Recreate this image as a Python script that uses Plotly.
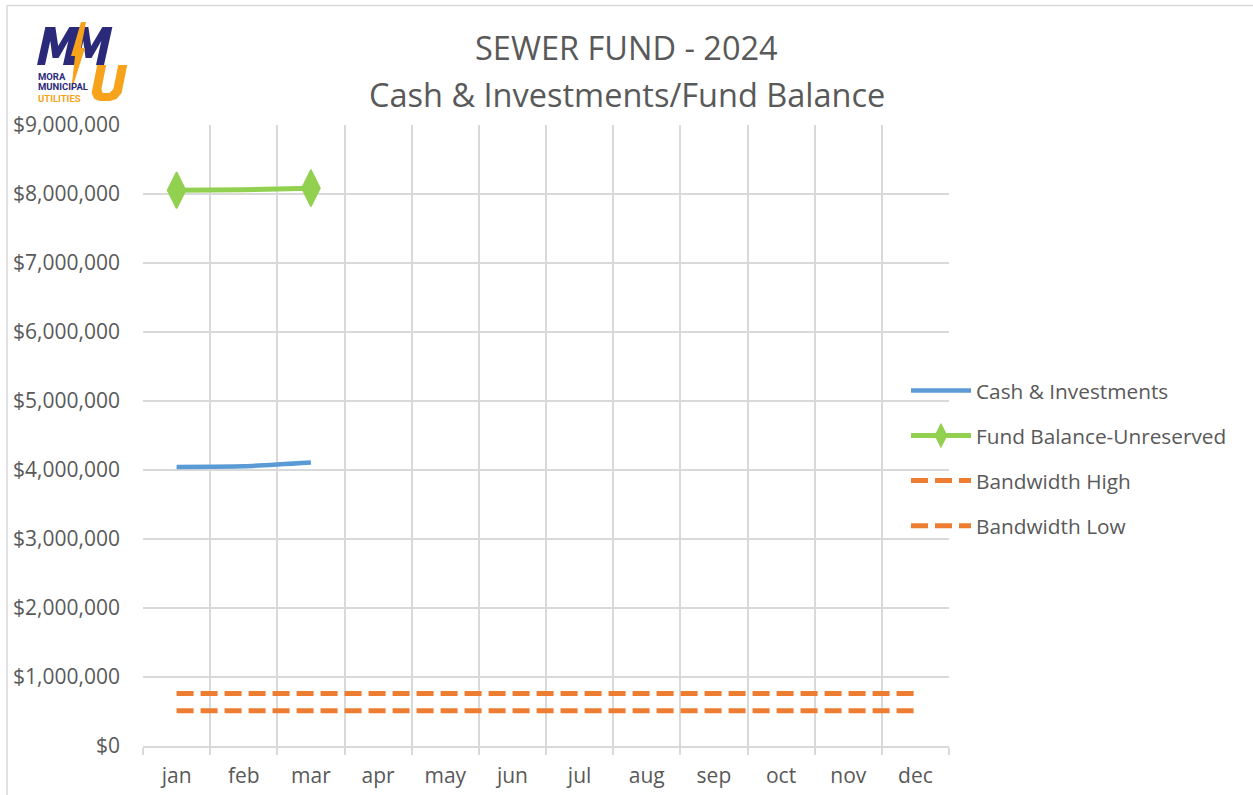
import plotly.graph_objects as go

months = ["jan", "feb", "mar", "apr", "may", "jun", "jul", "aug", "sep", "oct", "nov", "dec"]
cash_investments = [4045000, 4055000, 4110000]
fund_balance = [8055000, 8060000, 8085000]
fund_marker_sizes = [26, 0, 26]
bandwidth_high = [760000] * 12
bandwidth_low = [510000] * 12
y_ticks = [0, 1000000, 2000000, 3000000, 4000000, 5000000, 6000000, 7000000, 8000000, 9000000]
y_tick_labels = ["$0", "$1,000,000", "$2,000,000", "$3,000,000", "$4,000,000",
                 "$5,000,000", "$6,000,000", "$7,000,000", "$8,000,000", "$9,000,000"]

FONT = "Open Sans"
TXT = "#595959"
GRID = "#D9D9D9"
W, H = 1253, 795
L, R, T, B = 143, 1253 - 949, 125, 795 - 746
PW, PH = W - L - R, H - T - B


def px(x):
    return (x - L) / PW


def py(y):
    return (H - B - y) / PH


fig = go.Figure()
fig.add_trace(go.Scatter(x=months[:len(cash_investments)], y=cash_investments, mode="lines",
                         name="Cash & Investments", legendgroup="a",
                         line=dict(color="#5B9BD5", width=4.5, shape="spline", smoothing=0.5)))
fig.add_trace(go.Scatter(x=months[:len(fund_balance)], y=fund_balance, mode="lines+markers",
                         name="Fund Balance-Unreserved", legendgroup="b",
                         line=dict(color="#92D050", width=5),
                         marker=dict(symbol="diamond-tall", size=fund_marker_sizes, color="#92D050",
                                     opacity=1, line=dict(width=1.5, color="#92D050"))))
fig.add_trace(go.Scatter(x=months, y=bandwidth_high, mode="lines", name="Bandwidth High",
                         legendgroup="c",
                         line=dict(color="#ED7D31", width=5, dash="17px,7px")))
fig.add_trace(go.Scatter(x=months, y=bandwidth_low, mode="lines", name="Bandwidth Low",
                         legendgroup="d",
                         line=dict(color="#ED7D31", width=5, dash="17px,7px")))

anns = []
for text, y in [("SEWER FUND - 2024", 48), ("Cash & Investments/Fund Balance", 94)]:
    anns.append(dict(text=text, xref="paper", yref="paper",
                     x=(0.5 * W - L) / PW, y=py(y), showarrow=False,
                     xanchor="center", yanchor="middle",
                     font=dict(size=32.5, color=TXT, family=FONT)))

NAVY = "#2B2A7A"
ORANGE = "#F7A21B"
small = [("MORA", 76, NAVY), ("MUNICIPAL", 87, NAVY), ("UTILITIES", 98, ORANGE)]
for t, y, c in small:
    anns.append(dict(text=f"<b>{t}</b>", xref="paper", yref="paper", x=px(36), y=py(y),
                     showarrow=False, xanchor="left", yanchor="middle",
                     font=dict(size=9.5, color=c, family="Roboto")))


def poly(points, x0, y0, h, skew):
    pts = [(x0 + x + (h - y) * skew, y0 + y) for x, y in points]
    return "M " + " L ".join(f"{px(x)},{py(y)}" for x, y in pts) + " Z"


m_pts = [(0, 38), (0, 0), (10, 0), (17, 19), (24, 0), (34, 0), (34, 38), (26, 38), (26, 14),
         (20, 31), (14, 31), (8, 14), (8, 38)]
u_pts = [(0, 0), (9, 0), (9, 24), (11, 28), (18, 28), (21, 24), (21, 0), (30, 0), (30, 28),
         (26, 34), (20, 36), (10, 36), (4, 34), (0, 28)]
bolt = [(81, 22), (86, 22), (81, 48), (85, 48), (71, 92), (75, 56), (71, 56)]

shapes = [
    dict(type="path", path=poly(m_pts, 37, 27, 38, 0.22), xref="paper", yref="paper",
         fillcolor=NAVY, line=dict(width=0)),
    dict(type="path", path=poly(m_pts, 70, 27, 38, 0.22), xref="paper", yref="paper",
         fillcolor=NAVY, line=dict(width=0)),
    dict(type="path", path=poly(u_pts, 90, 65, 36, 0.2), xref="paper", yref="paper",
         fillcolor=ORANGE, line=dict(width=0)),
    dict(type="path", path=poly(bolt, 0, 0, 0, 0), xref="paper", yref="paper",
         fillcolor=ORANGE, line=dict(width=0)),
    dict(type="line", xref="paper", yref="paper", x0=px(7), x1=px(1253), y0=py(5.5), y1=py(5.5),
         line=dict(color=GRID, width=1.5)),
    dict(type="line", xref="paper", yref="paper", x0=px(7), x1=px(7), y0=py(5.5), y1=py(795),
         line=dict(color=GRID, width=1.5)),
]

fig.update_layout(
    width=W, height=H,
    margin=dict(l=L, r=R, t=T, b=B, pad=0, autoexpand=False),
    paper_bgcolor="white", plot_bgcolor="white",
    font=dict(family=FONT, color=TXT, size=18),
    showlegend=True,
    legend=dict(x=px(906), y=py(370.5), xanchor="left", yanchor="top",
                font=dict(size=20.8, color=TXT, family=FONT),
                bgcolor="rgba(0,0,0,0)", tracegroupgap=15, itemwidth=60),
    annotations=anns,
    shapes=shapes,
    xaxis=dict(type="category", categoryorder="array", categoryarray=months,
               range=[-0.5, 11.5], tickson="boundaries", showgrid=True, gridcolor=GRID,
               gridwidth=1.5, showline=True, linecolor=GRID, linewidth=1.5,
               ticks="outside", ticklen=7, tickcolor=GRID, tickwidth=1.5, automargin=False,
               tickfont=dict(size=21, color=TXT), ticklabelstandoff=10, zeroline=False),
    yaxis=dict(range=[0, 9000000], tickvals=y_ticks, ticktext=y_tick_labels, automargin=False,
               showgrid=True, gridcolor=GRID, gridwidth=1.5, showline=False, zeroline=False,
               ticks="", tickfont=dict(size=21, color=TXT), ticklabelstandoff=22),
)

fig.write_html("out.html", config={"displayModeBar": False},
               post_script="document.body.style.margin='0';")
